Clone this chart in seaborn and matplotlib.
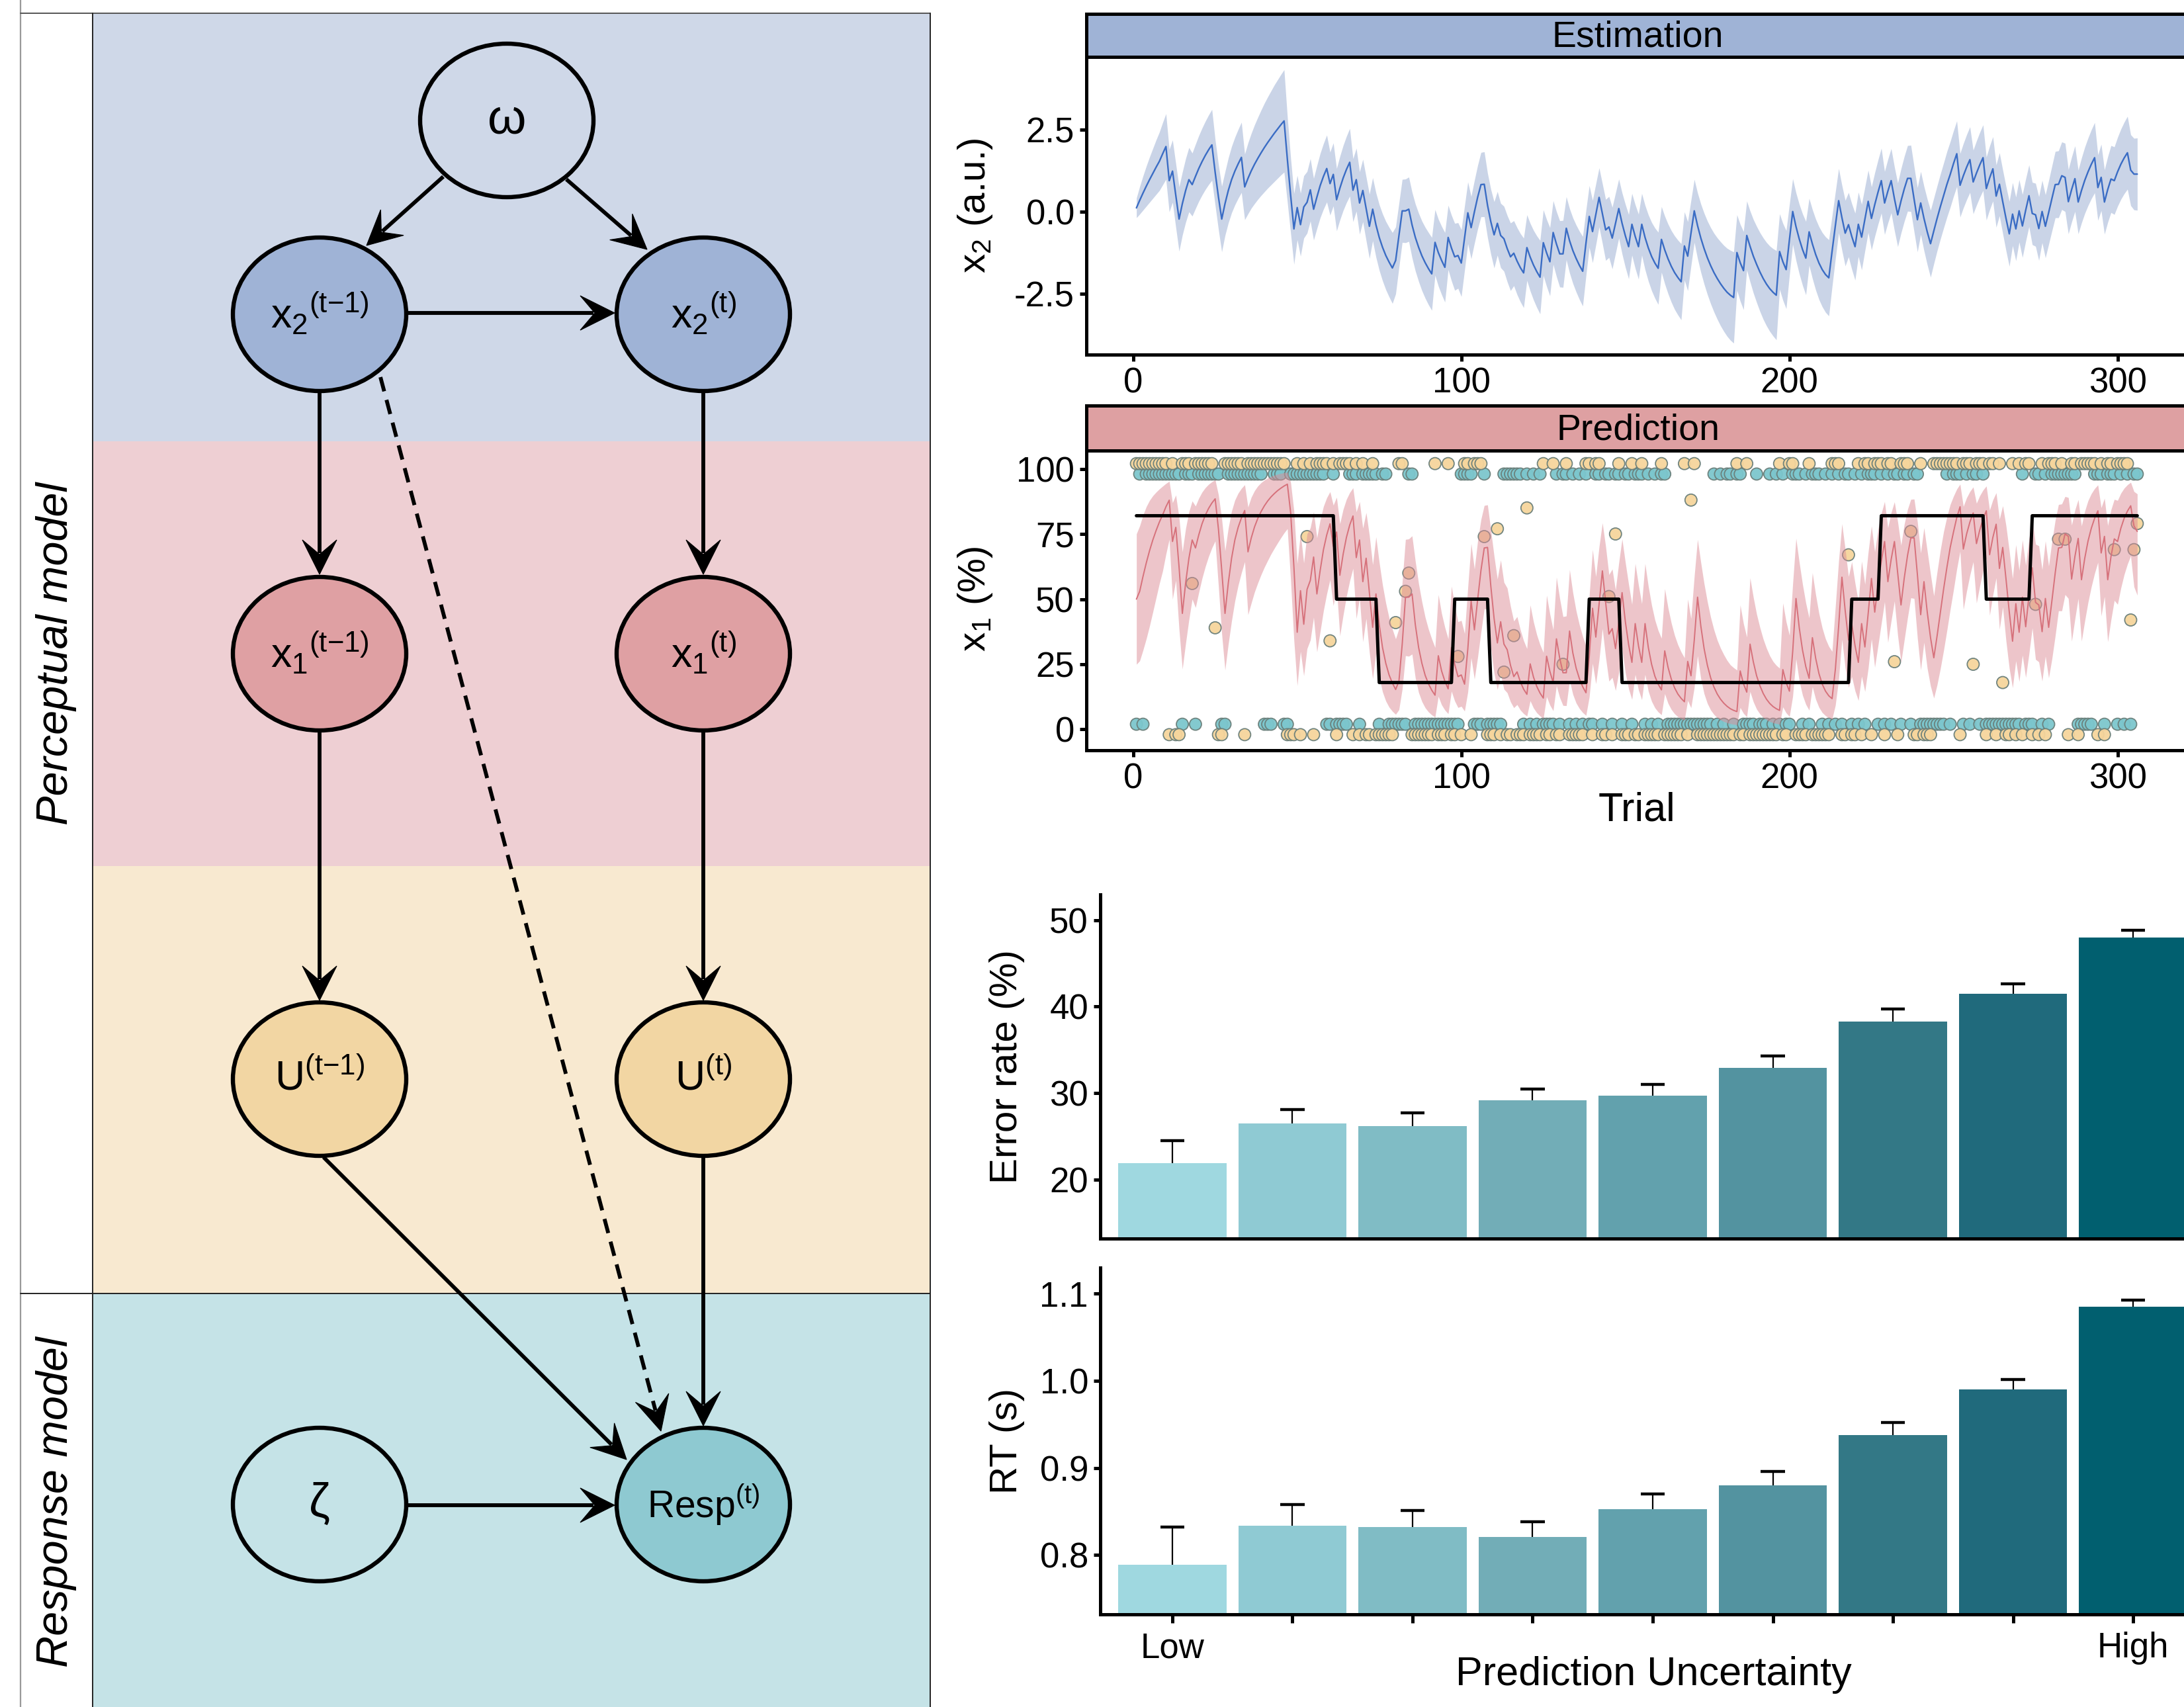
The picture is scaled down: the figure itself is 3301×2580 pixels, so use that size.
import numpy as np
import pandas as pd
import matplotlib
matplotlib.use("Agg")
import matplotlib.pyplot as plt
import seaborn as sns
from matplotlib.patches import Ellipse, Rectangle, Polygon

sns.set_theme(style="ticks")
plt.rcParams["font.family"] = ["Liberation Sans", "DejaVu Sans"]
plt.rcParams["mathtext.fontset"] = "custom"
plt.rcParams["mathtext.rm"] = "Liberation Sans"
plt.rcParams["mathtext.it"] = "Liberation Sans:italic"
plt.rcParams["mathtext.bf"] = "Liberation Sans:bold"
plt.rcParams["axes.unicode_minus"] = False
for k in ["text.color", "axes.labelcolor", "xtick.color", "ytick.color",
          "axes.edgecolor"]:
    plt.rcParams[k] = "black"

# ------------------------------------------------------------------ data
# posterior mean of x2 per trial (trials 1..306)
x2_mean = [
    0.12, 0.35, 0.57, 0.78, 0.98, 1.17, 1.36, 1.54, 1.77, 1.99,
    0.95, 1.24, 0.50, -0.22, 0.25, 0.65, 0.98, 0.83, 1.08, 1.32,
    1.53, 1.72, 1.89, 2.04, 1.20, 0.45, -0.22, 0.25, 0.65, 0.98,
    1.24, 1.46, 1.66, 0.76, 1.02, 1.25, 1.45, 1.63, 1.80, 1.96,
    2.11, 2.25, 2.39, 2.52, 2.65, 2.77, 1.60, 0.50, -0.52, 0.13,
    -0.39, 0.15, 0.29, 0.67, 0.08, 0.45, 0.80, 1.08, 1.32, 0.86,
    1.14, 0.37, 0.72, 1.03, 1.29, 1.51, 0.66, 0.98, 0.27, 0.65,
    0.10, -0.44, 0.08, -0.40, -0.78, -1.08, -1.33, -1.53, -1.71, -1.48,
    -0.72, 0.03, 0.03, 0.08, -0.40, -0.78, -1.08, -1.34, -1.55, -1.73,
    -1.89, -0.93, -1.24, -1.48, -1.69, -0.78, -1.10, -1.37, -1.33, -1.56,
    -0.80, -0.03, -0.48, 0.00, 0.45, 0.83, 0.84, 0.20, -0.30, -0.70,
    -0.35, -0.72, -0.82, -1.12, -1.37, -1.26, -1.50, -1.70, -1.86, -1.09,
    -1.38, -1.62, -1.82, -1.99, -0.94, -1.25, -1.52, -0.63, -0.98, -1.28,
    -1.28, -0.50, -0.88, -1.18, -1.42, -1.63, -1.81, -0.95, -0.14, -0.60,
    -0.08, 0.44, -0.05, -0.55, -0.46, -0.80, -0.35, 0.10, -0.35, -0.73,
    -1.06, -0.38, -0.75, -1.06, -0.38, -0.78, -1.10, -1.36, -1.56, -1.72,
    -0.84, -1.16, -1.43, -1.66, -1.85, -2.00, -2.13, -1.04, -1.35, -0.65,
    0.03, -0.42, -0.80, -1.12, -1.40, -1.64, -1.85, -2.03, -2.19, -2.33,
    -2.45, -2.54, -2.61, -1.24, -1.55, -1.79, -0.72, -1.05, -1.35, -1.60,
    -1.83, -2.03, -2.20, -2.34, -2.45, -2.54, -1.21, -1.52, -1.76, -0.85,
    0.01, -0.45, -0.83, -1.15, -1.41, -0.61, -0.98, -1.30, -1.56, -1.76,
    -1.91, -2.01, -1.20, -0.42, 0.34, -0.18, -0.65, -0.39, -0.75, -1.06,
    -0.38, -0.77, -0.22, 0.32, -0.20, 0.22, 0.60, 0.95, 0.27, 0.63,
    0.95, 0.40, -0.09, 0.33, 0.70, 1.02, 1.02, 0.38, -0.24, 0.27,
    -0.20, -0.61, -0.97, -0.58, -0.20, 0.16, 0.50, 0.84, 1.14, 1.47,
    1.77, 0.81, 1.10, 1.36, 1.59, 0.91, 1.18, 1.43, 1.65, 0.71,
    1.03, 1.31, 0.48, 0.84, 0.31, -0.20, -0.67, -0.07, -0.52, 0.03,
    -0.43, 0.05, 0.49, -0.05, -0.09, -0.51, 0.01, -0.44, -0.02, 0.41,
    0.83, 0.84, 1.10, 1.05, 0.31, 0.68, 1.01, 0.30, 0.65, 0.96,
    1.22, 1.45, 1.65, 0.74, 1.05, 0.30, 0.68, 1.00, 0.95, 1.22,
    1.45, 1.64, 1.80, 1.27, 1.15, 1.15,
]

# posterior sd of x2 per trial
x2_sd = [
    0.30, 0.42, 0.52, 0.61, 0.69, 0.76, 0.83, 0.89, 0.95, 1.00,
    0.95, 0.95, 0.97, 0.98, 0.96, 0.97, 0.98, 0.96, 0.98, 1.00,
    1.02, 1.04, 1.06, 1.08, 1.00, 0.99, 1.00, 0.97, 0.99, 1.01,
    1.03, 1.05, 1.07, 1.00, 1.08, 1.14, 1.20, 1.25, 1.30, 1.35,
    1.39, 1.43, 1.47, 1.50, 1.53, 1.56, 1.30, 1.15, 1.08, 0.98,
    0.96, 0.95, 0.94, 0.95, 0.94, 0.96, 0.98, 1.00, 1.02, 0.96,
    0.96, 0.95, 0.97, 0.99, 1.01, 1.03, 0.96, 0.96, 0.95, 0.95,
    0.97, 0.98, 0.96, 0.98, 1.00, 1.02, 1.04, 1.06, 1.08, 1.02,
    0.98, 0.96, 0.97, 0.98, 1.00, 1.02, 1.04, 1.06, 1.08, 1.10,
    1.11, 1.00, 1.02, 1.04, 1.06, 0.98, 1.00, 1.02, 1.00, 1.02,
    0.98, 0.94, 0.95, 0.96, 0.97, 0.98, 0.99, 0.98, 0.99, 1.01,
    0.97, 0.98, 0.99, 1.01, 1.03, 0.99, 1.02, 1.04, 1.06, 1.00,
    1.03, 1.06, 1.09, 1.12, 1.00, 1.02, 1.04, 0.97, 0.99, 1.01,
    1.02, 0.96, 0.98, 1.00, 1.02, 1.04, 1.06, 1.00, 0.94, 0.95,
    0.93, 0.90, 0.91, 0.93, 0.93, 0.94, 0.92, 0.90, 0.93, 0.96,
    0.98, 0.94, 0.97, 0.99, 0.94, 0.98, 1.01, 1.04, 1.07, 1.10,
    1.00, 1.03, 1.06, 1.09, 1.12, 1.14, 1.16, 1.04, 1.05, 1.00,
    0.96, 1.00, 1.04, 1.08, 1.12, 1.16, 1.20, 1.24, 1.28, 1.31,
    1.34, 1.37, 1.39, 1.15, 1.17, 1.19, 1.05, 1.08, 1.12, 1.16,
    1.20, 1.24, 1.27, 1.30, 1.33, 1.36, 1.15, 1.17, 1.19, 1.08,
    1.00, 1.03, 1.06, 1.09, 1.12, 1.02, 1.05, 1.08, 1.11, 1.13,
    1.15, 1.16, 1.08, 1.02, 0.98, 0.99, 1.00, 0.98, 1.00, 1.02,
    0.98, 1.00, 0.97, 0.95, 0.96, 0.97, 0.98, 0.99, 0.96, 0.97,
    0.98, 0.97, 0.97, 0.98, 0.99, 1.00, 1.01, 0.99, 0.98, 0.96,
    0.98, 1.00, 1.02, 1.00, 0.99, 0.99, 0.99, 1.00, 1.00, 1.00,
    1.00, 0.97, 0.98, 0.99, 1.00, 0.97, 0.98, 0.99, 1.00, 0.96,
    0.97, 0.98, 0.95, 0.96, 0.97, 0.98, 0.99, 0.96, 0.97, 0.95,
    0.96, 0.95, 0.94, 0.95, 0.96, 0.97, 0.95, 0.96, 0.97, 0.99,
    1.01, 1.02, 1.03, 1.04, 0.98, 0.99, 1.00, 0.97, 0.99, 1.01,
    1.03, 1.05, 1.07, 1.00, 1.01, 0.98, 1.00, 1.02, 1.03, 1.05,
    1.07, 1.09, 1.11, 1.08, 1.09, 1.10,
]

# prior sd used for the first predictions
pred_sd_start = [1.10, 1.15, 1.18, 1.20, 1.20, 1.18, 1.15, 1.12, 1.10, 1.05]
prior_mean = 0.0

# inputs (orange): 1, 0 or intermediate value
outcome = [
    1, 1, 1, 1, 1, 1, 1, 1, 1, 1,
    0, 1, 0, 0, 1, 1, 1, .56, 1, 1,
    1, 1, 1, 1, .39, 0, 0, 1, 1, 1,
    1, 1, 1, 0, 1, 1, 1, 1, 1, 1,
    1, 1, 1, 1, 1, 1, 0, 0, 0, 1,
    0, 1, .74, 1, 0, 1, 1, 1, 1, .34,
    1, 0, 1, 1, 1, 1, 0, 1, 0, 1,
    0, 0, 1, 0, 0, 0, 0, 0, 0, .41,
    1, 1, .53, .60, 0, 0, 0, 0, 0, 0,
    0, 1, 0, 0, 0, 1, 0, 0, .28, 0,
    1, 1, 0, 1, 1, 1, .74, 0, 0, 0,
    .77, 0, .22, 0, 0, .36, 0, 0, 0, .85,
    0, 0, 0, 0, 1, 0, 0, 1, 0, 0,
    .25, 1, 0, 0, 0, 0, 0, 1, 1, 0,
    1, 1, 0, 0, .51, 0, .75, 1, 0, 0,
    0, 1, 0, 0, 1, 0, 0, 0, 0, 0,
    1, 0, 0, 0, 0, 0, 0, 1, 0, .88,
    1, 0, 0, 0, 0, 0, 0, 0, 0, 0,
    0, 0, 0, 1, 0, 0, 1, 0, 0, 0,
    0, 0, 0, 0, 0, 0, 1, 0, 0, 1,
    1, 0, 0, 0, 0, 1, 0, 0, 0, 0,
    0, 0, 1, 1, 1, 0, 0, .67, 0, 0,
    1, 0, 1, 1, 0, 1, 1, 1, 0, 1,
    1, .26, 0, 1, 1, 1, .76, 0, 0, 1,
    0, 0, 0, 1, 1, 1, 1, 1, 1, 1,
    1, 0, 1, 1, 1, .25, 1, 1, 1, 0,
    1, 1, 0, 1, .18, 0, 0, 1, 0, 1,
    0, 1, 1, 0, .48, 0, 1, 0, 1, 1,
    1, .73, 1, .73, 0, 1, 1, 0, 1, 1,
    1, 1, 1, 0, 1, 0, 1, 1, .69, 1,
    1, 1, 1, .42, .69, .79,
]

# responses (teal): 1 = upper, 0 = lower
response = (
    "0101111111" "1111011101" "1111110011" "1111111110" "0011100111"
    "1111111100" "1000011101" "1111011000" "0001100000" "0000000001"
    "1110001000" "0011111101" "0101000010" "1101010100" "1101101101"
    "1011101010" "1100000000" "0000001010" "1101100001" "0001010100"
    "1110101110" "1010101101" "0101110101" "0110110110" "0000000101"
    "1101011010" "0000000000" "1000110101" "1111111000" "0011101110"
    "101011"
)

# true reward probability (%) blocks
block_lengths = [61, 13, 23, 11, 30, 10, 70, 9, 32, 14, 33]
block_levels = [82, 50, 18, 50, 18, 50, 18, 50, 82, 50, 82]

# behaviour by prediction-uncertainty bin
uncertainty_bins = ["b1", "b2", "b3", "b4", "b5", "b6", "b7", "b8", "b9"]
uncertainty_ticklabels = ["Low", "", "", "", "", "", "", "", "High"]
error_rate = [21.9, 26.5, 26.2, 29.2, 29.7, 32.9, 38.3, 41.5, 48.0]
error_rate_se = [2.6, 1.6, 1.5, 1.3, 1.3, 1.4, 1.4, 1.1, 0.8]
rt_mean = [0.789, 0.834, 0.832, 0.821, 0.853, 0.880, 0.938, 0.990, 1.085]
rt_se = [0.043, 0.024, 0.019, 0.017, 0.017, 0.016, 0.014, 0.012, 0.008]
bar_colors = ["#9fd8e0", "#8fcad3", "#80bcc5", "#72adb7", "#62a1ad",
              "#5393a0", "#337886", "#206a7c", "#015f6f"]

# ------------------------------------------------------------------ derived
trials = np.arange(1, len(x2_mean) + 1)
mu = np.array(x2_mean)
sd = np.array(x2_sd)
pred_mu = np.array([prior_mean] + x2_mean[:-1])
pred_sd = np.array(pred_sd_start + x2_sd[len(pred_sd_start) - 1:len(x2_sd) - 1])
sig = lambda v: 100.0 / (1.0 + np.exp(-v))
pred = sig(pred_mu)
pred_lo = sig(pred_mu - pred_sd)
pred_hi = sig(pred_mu + pred_sd)
true_prob = np.repeat(block_levels, block_lengths)

u = np.array(outcome, dtype=float)
u_y = np.where(u == 1, 102.0, np.where(u == 0, -2.0, u * 100))
r = np.array([int(c) for c in response])
r_y = np.where(r == 1, 98.0, 2.0)
dots = pd.DataFrame({
    "trial": np.concatenate([trials, trials]),
    "y": np.concatenate([r_y, u_y]),
    "kind": ["response"] * len(trials) + ["input"] * len(trials),
})

# ------------------------------------------------------------------ figure
W, H = 3301, 2580
fig = plt.figure(figsize=(W / 100, H / 100), dpi=100)


def rect(x0, y0, x1, y1):
    return [x0 / W, 1 - y1 / H, (x1 - x0) / W, (y1 - y0) / H]


BLK = 3.6
TICK_FS = 38
LAB_FS = 44

# ---------------- left: model diagram
axd = fig.add_axes([0, 0, 1, 1], zorder=0)
axd.set_xlim(0, W)
axd.set_ylim(H, 0)
axd.axis("off")
bands = [(20, 667, "#cfd8e8"), (667, 1309, "#eecfd3"),
         (1309, 1955, "#f8e9d0"), (1955, H, "#c5e3e7")]
for y0, y1, c in bands:
    axd.add_patch(Rectangle((140, y0), 1406 - 140, y1 - y0, facecolor=c,
                            edgecolor="none", zorder=0))
axd.plot([31, 31], [0, H], color="#9a9a9a", lw=1.6, zorder=1)
axd.plot([31, 1406], [20, 20], color="#555555", lw=1.4, zorder=1)
axd.plot([140, 140], [20, H], color="#222222", lw=1.4, zorder=1)
axd.plot([1406, 1406], [20, H], color="#222222", lw=1.4, zorder=1)
axd.plot([31, 1406], [1955, 1955], color="#222222", lw=1.4, zorder=1)
axd.text(85, 988, "Perceptual model", rotation=90, style="italic",
         fontsize=48, ha="center", va="center")
axd.text(85, 2270, "Response model", rotation=90, style="italic",
         fontsize=48, ha="center", va="center")

SUP1 = r"$^{\mathregular{(t{-}1)}}$"
SUPT = r"$^{\mathregular{(t)}}$"
nodes = {
    "w": (766, 182, "#cfd8e8", "ω"),
    "x2a": (483, 475, "#9fb3d6", r"x$_{\mathregular{2}}$" + SUP1),
    "x2b": (1063, 475, "#9fb3d6", r"x$_{\mathregular{2}}$" + SUPT),
    "x1a": (483, 988, "#dfa0a3", r"x$_{\mathregular{1}}$" + SUP1),
    "x1b": (1063, 988, "#dfa0a3", r"x$_{\mathregular{1}}$" + SUPT),
    "ua": (483, 1631, "#f2d6a3", "U" + SUP1),
    "ub": (1063, 1631, "#f2d6a3", "U" + SUPT),
    "z": (483, 2274, "#c5e3e7", "ζ"),
    "resp": (1063, 2274, "#8ec9d1", "Resp" + SUPT),
}
for key, (cx, cy, fc, lab) in nodes.items():
    axd.add_patch(Ellipse((cx, cy), 262, 232, facecolor=fc, edgecolor="black",
                          lw=4.6, zorder=3))
    fs = {"resp": 41, "w": 54, "z": 52}.get(key, 45)
    axd.text(cx, cy, lab, fontsize=fs, ha="center", va="center", zorder=4)


def draw_arrow(a, b, dashed=False):
    a = np.array(a, float); b = np.array(b, float)
    d = (b - a) / np.linalg.norm(b - a)
    n = np.array([-d[1], d[0]])
    L, Wd, notch = 52, 26, 30
    e = b - d * (notch + 2)
    kw = dict(color="black", lw=4.2, zorder=2, solid_capstyle="butt")
    if dashed:
        kw["dashes"] = (3.8, 2.3)
    axd.plot([a[0], e[0]], [a[1], e[1]], **kw)
    head = [b, b - d * L + n * Wd, b - d * notch, b - d * L - n * Wd]
    axd.add_patch(Polygon(head, closed=True, facecolor="black",
                          edgecolor="black", lw=0.8, zorder=2))


arrows = [
    ((670, 267), (554, 371)),
    ((856, 271), (978, 377)),
    ((614, 473), (929, 473)),
    ((483, 591), (483, 868)),
    ((1063, 591), (1063, 868)),
    ((483, 1105), (483, 1512)),
    ((1063, 1105), (1063, 1512)),
    ((489, 1749), (947, 2206)),
    ((1063, 1747), (1063, 2155)),
    ((614, 2275), (929, 2275)),
]
for a, b in arrows:
    draw_arrow(a, b)
draw_arrow((575, 570), (999, 2163), dashed=True)


def style_box(ax):
    for s in ax.spines.values():
        s.set_linewidth(BLK)
        s.set_color("black")


def add_strip(x0, y0, x1, y1, color, label):
    a = fig.add_axes(rect(x0, y0, x1, y1))
    a.set_facecolor(color)
    style_box(a)
    a.set_xticks([]); a.set_yticks([])
    a.text(0.501, 0.45, label, transform=a.transAxes, ha="center",
           va="center", fontsize=40)
    return a


# ---------------- estimation panel
ax_est = fig.add_axes(rect(1642, 86, 3306, 536))
ax_est.fill_between(trials, mu - sd, mu + sd, color="#9fb2d5", alpha=0.55,
                    lw=0, zorder=1)
sns.lineplot(x=trials, y=mu, ax=ax_est, color="#3a6cc4", lw=1.7, zorder=2)
ax_est.set_xlim(-14.25, 321.25)
ax_est.set_ylim(-4.35, 4.72)
ax_est.set_yticks([-2.5, 0.0, 2.5])
ax_est.set_yticklabels(["-2.5", "0.0", "2.5"])
ax_est.set_xticks([0, 100, 200, 300])
ax_est.set_xlabel(""); ax_est.set_ylabel("")
style_box(ax_est)
ax_est.tick_params(labelsize=TICK_FS, length=7, width=BLK, pad=6)
add_strip(1642, 21, 3306, 86, "#9fb3d6", "Estimation")
fig.text(1474 / W, 1 - 311 / H, r"x$_{\mathregular{2}}$ (a.u.)", rotation=90,
         ha="center", va="center", fontsize=42)

# ---------------- prediction panel
ax_pred = fig.add_axes(rect(1642, 681, 3306, 1134))
sns.scatterplot(data=dots, x="trial", y="y", hue="kind", ax=ax_pred,
                palette={"response": "#7cc6cd", "input": "#f6d59c"},
                hue_order=["response", "input"], s=170, linewidth=1.3,
                edgecolor="#6a7f7a", alpha=0.95, legend=False, zorder=1)
ax_pred.fill_between(trials, pred_lo, pred_hi, color="#dc8d97", alpha=0.5,
                     lw=0, zorder=2)
sns.lineplot(x=trials, y=pred, ax=ax_pred, color="#d6717b", lw=1.4, zorder=3)
sns.lineplot(x=trials, y=true_prob, ax=ax_pred, color="black", lw=BLK, zorder=4)
ax_pred.set_xlim(-14.25, 321.25)
ax_pred.set_ylim(-8, 107)
ax_pred.set_yticks([0, 25, 50, 75, 100])
ax_pred.set_xticks([0, 100, 200, 300])
ax_pred.set_xlabel(""); ax_pred.set_ylabel("")
style_box(ax_pred)
ax_pred.tick_params(labelsize=TICK_FS, length=7, width=BLK, pad=6)
add_strip(1642, 613, 3306, 681, "#dea0a2", "Prediction")
fig.text(1474 / W, 1 - 905 / H, r"x$_{\mathregular{1}}$ (%)", rotation=90,
         ha="center", va="center", fontsize=42)
fig.text(2474 / W, 1 - 1225 / H, "Trial", ha="center", va="center",
         fontsize=LAB_FS)

# ---------------- bar panels
def bar_panel(box, values, se, ylim, yticks, yticklabels, ylabel, show_x):
    ax = fig.add_axes(rect(*box))
    sns.barplot(x=uncertainty_bins, y=values, hue=uncertainty_bins,
                palette=bar_colors, order=uncertainty_bins, legend=False,
                width=0.9, saturation=1, ax=ax, edgecolor="none", zorder=2)
    pos = np.arange(len(values))
    top = np.array(values) + np.array(se)
    ax.vlines(pos, values, top, color="black", lw=1.6, zorder=3)
    ax.hlines(top, pos - 0.1, pos + 0.1, color="black", lw=3.2, zorder=3)
    ax.set_xlim(-0.6, 8.6)
    ax.set_ylim(*ylim)
    ax.set_yticks(yticks)
    ax.set_yticklabels(yticklabels)
    sns.despine(ax=ax)
    for s in ["left", "bottom"]:
        ax.spines[s].set_linewidth(BLK)
        ax.spines[s].set_color("black")
    ax.set_xlabel(""); ax.set_ylabel("")
    ax.tick_params(axis="y", labelsize=TICK_FS, length=7, width=BLK, pad=6)
    if show_x:
        ax.set_xticks(pos)
        ax.set_xticklabels(uncertainty_ticklabels)
        ax.tick_params(axis="x", labelsize=TICK_FS, length=9, width=BLK, pad=10)
    else:
        ax.set_xticks([])
    cy = 1 - (box[1] + box[3]) / 2 / H
    fig.text(1522 / W, cy, ylabel, rotation=90, ha="center", va="center",
             fontsize=42)
    return ax


bar_panel((1663, 1352, 3333, 1872), error_rate, error_rate_se,
          (13.17, 52.97), [20, 30, 40, 50], ["20", "30", "40", "50"],
          "Error rate (%)", False)
bar_panel((1663, 1916, 3333, 2440), rt_mean, rt_se,
          (0.732, 1.130), [0.8, 0.9, 1.0, 1.1], ["0.8", "0.9", "1.0", "1.1"],
          "RT (s)", True)
fig.text(2499 / W, 1 - 2532 / H, "Prediction Uncertainty", ha="center",
         va="center", fontsize=LAB_FS)

fig.savefig("out.png", dpi=100)
